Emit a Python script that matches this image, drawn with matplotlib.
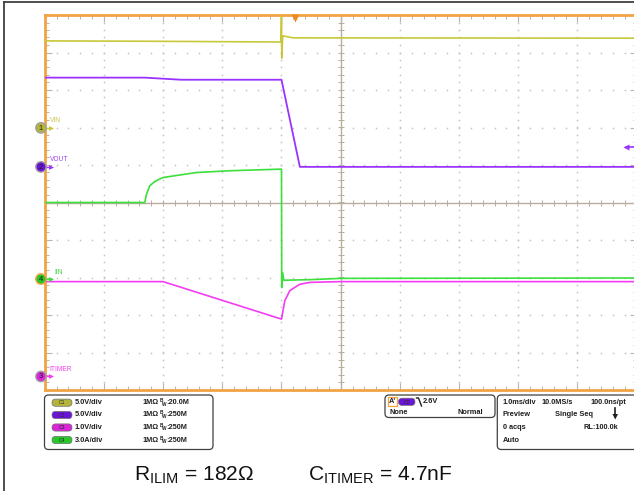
import numpy as np
import matplotlib
matplotlib.use('Agg')
import matplotlib.pyplot as plt
from matplotlib.patches import FancyBboxPatch, Rectangle, Circle, Polygon

plt.rcParams['font.family'] = ['Liberation Sans', 'DejaVu Sans']
plt.rcParams['mathtext.fontset'] = 'custom'
plt.rcParams['mathtext.rm'] = 'Liberation Sans'

# ---------------- data (time in ms, event at 0) ----------------
vin_t = [-4.0, -2.3, -0.01, 0.0, 0.004, 0.02, 0.2, 6.0]
vin_v = [11.6, 11.55, 11.45, 14.9, 9.3, 12.27, 12.0, 11.96]

vout_t = [-4.0, -2.31, -1.7, 0.0, 0.31, 6.0]
vout_v = [11.9, 11.9, 11.62, 11.62, 0.0, 0.0]

iin_t = [-4.0, -2.31, -2.28, -2.225, -2.14, -2.0, -1.436, -0.873, 0.0,
         0.004, 0.02, 0.04, 0.5, 1.0, 6.0]
iin_a = [6.12, 6.12, 6.79, 7.46, 7.8, 8.12, 8.52, 8.66, 8.79,
         -0.68, 0.5, -0.1, -0.05, 0.05, 0.08]

itimer_t = [-4.0, -2.0, 0.0, 0.056, 0.14, 0.31, 0.48, 1.0, 6.0]
itimer_v = [2.53, 2.53, 1.53, 2.02, 2.29, 2.46, 2.51, 2.53, 2.53]

# channel scales (units/div) and ground offsets (div)
scales = {'C1': 5.0, 'C2': 5.0, 'C3': 1.0, 'C4': 3.0}
offsets = {'C1': 1.99, 'C2': 0.95, 'C3': -4.64, 'C4': -2.04}
labels = {'C1': 'VIN', 'C2': 'VOUT', 'C3': 'ITIMER', 'C4': 'IIN'}
trace_col = {'C1': '#c8c83a', 'C2': '#9a33ff', 'C3': '#f43cf4', 'C4': '#3ce03c'}
mark_col = {'C1': '#b4b43c', 'C2': '#6a14d8', 'C3': '#d826d8', 'C4': '#28c828'}
label_col = {'C1': '#c8c850', 'C2': '#9a40f0', 'C3': '#f040f0', 'C4': '#40d040'}
volt_div = ['5.0V/div', '5.0V/div', '1.0V/div', '3.0A/div']
bw = ['20.0M', '250M', '250M', '250M']
trig_level = 2.6
trig_pos_ms = 0.22
x_center_ms = 1.0

W, H = 634, 491
fig = plt.figure(figsize=(W / 100, H / 100), dpi=100)
fig.patch.set_facecolor('white')

def fx(x):
    return x / W

def fy(y):
    return 1 - y / H

# main scope grid axes (10 x 10 divisions)
gl, gt, gw, gh = 44.7, 15.0, 592.0, 375.0
ax = fig.add_axes([fx(gl), fy(gt + gh), gw / W, gh / H])
ax.set_xlim(x_center_ms - 5, x_center_ms + 5)
ax.set_ylim(-5, 5)
for s in ax.spines.values():
    s.set_color('#f2a444')
    s.set_linewidth(2)
ax.set_xticks(np.arange(-4, 6.01, 1))
ax.set_yticks(np.arange(-5, 5.01, 1))
ax.set_xticks(np.arange(-4, 6.01, 0.2), minor=True)
ax.set_yticks(np.arange(-5, 5.01, 0.2), minor=True)
ax.tick_params(which='both', direction='in', top=True, right=True,
               labelbottom=False, labelleft=False, colors='#bdb3a6')
ax.tick_params(which='major', length=5, width=0.8)
ax.tick_params(which='minor', length=3, width=0.7)

gridc = '#c4c4c4'
minor_y = np.arange(-5, 5.01, 0.2)
minor_x = np.arange(-4, 6.01, 0.2)
for k in np.arange(-3, 6, 1):
    if k == x_center_ms:
        continue
    ax.plot(np.full_like(minor_y, k), minor_y, ls='none', marker='s', ms=1.1,
            mec='none', mfc=gridc, zorder=1)
for k in np.arange(-4, 5, 1):
    if k == 0:
        continue
    ax.plot(minor_x, np.full_like(minor_x, k), ls='none', marker='s', ms=1.1,
            mec='none', mfc=gridc, zorder=1)
axc = '#b8ad9e'
ax.axhline(0, color=axc, lw=1, zorder=1)
ax.axvline(x_center_ms, color=axc, lw=1, zorder=1)
ax.plot(minor_x, np.zeros_like(minor_x), ls='none', marker='|', ms=4, mew=0.7,
        color=axc, zorder=1)
ax.plot(np.full_like(minor_y, x_center_ms), minor_y, ls='none', marker='_', ms=4,
        mew=0.7, color=axc, zorder=1)

def div(ch, vals):
    return np.asarray(vals) / scales[ch] + offsets[ch]

ax.plot(vin_t, div('C1', vin_v), color=trace_col['C1'], lw=1.2, zorder=3)
ax.plot(vout_t, div('C2', vout_v), color=trace_col['C2'], lw=1.3, zorder=3)
ax.plot(itimer_t, div('C3', itimer_v), color=trace_col['C3'], lw=1.2, zorder=3)
ax.plot(iin_t, div('C4', iin_a), color=trace_col['C4'], lw=1.2, zorder=4)

# trigger position marker and trigger level arrow
ax.plot([trig_pos_ms], [4.93], marker='v', ms=6, color='#f08a20', mec='none',
        clip_on=False, zorder=6)
lvl = div('C2', [trig_level])[0]
ax.plot([5.82, 6.0], [lvl, lvl], color=trace_col['C2'], lw=1.2, zorder=5)
ax.plot([5.82], [lvl], marker='<', ms=4.5, color=trace_col['C2'], mec='none', zorder=5)

# overlay in pixel coordinates
ov = fig.add_axes([0, 0, 1, 1])
ov.set_xlim(0, W)
ov.set_ylim(H, 0)
ov.axis('off')
ov.patch.set_visible(False)

# outer frame (left and top visible)
ov.plot([4, 4], [2, H + 5], color='#404040', lw=1.3)
ov.plot([4, W + 5], [2, 2], color='#404040', lw=1.3)

def ypix(ch):
    disp = ax.transData.transform((0, offsets[ch]))
    return H - disp[1]

for i, ch in enumerate(['C1', 'C2', 'C3', 'C4']):
    y = ypix(ch)
    ring = '#f2a444' if ch == 'C4' else '#a0a0a0'
    ov.add_patch(Circle((41, y), 5.2, facecolor=mark_col[ch], edgecolor=ring,
                        lw=1.0, zorder=10))
    ov.text(41, y + 0.3, ch[1], ha='center', va='center', fontsize=5.5,
            color='#303000' if ch == 'C1' else '#202020', zorder=11)
    ov.plot([46.5, 51], [y, y], color=trace_col[ch], lw=1.0, zorder=10)
    ov.plot([51], [y], marker='>', ms=3.5, color=trace_col[ch], mec='none', zorder=10)
    lx = 54 if ch == 'C4' else 49.5
    ov.text(lx, y - 7, labels[ch], ha='left', va='center', fontsize=4.8,
            color=label_col[ch], zorder=11)

# ---- info boxes ----
def rbox(x0, y0, x1, y1):
    ov.add_patch(FancyBboxPatch((x0, y0), x1 - x0, y1 - y0,
                                boxstyle='round,pad=0,rounding_size=4',
                                facecolor='white', edgecolor='#404040', lw=0.9,
                                zorder=8))

txtc = '#1e1e1e'
fs = 5.3
rbox(44.5, 395, 213, 449.5)
rows = [402.7, 415.0, 427.5, 440.0]
for i, ch in enumerate(['C1', 'C2', 'C3', 'C4']):
    y = rows[i]
    ov.add_patch(FancyBboxPatch((52, y - 3.6), 20, 7.2,
                                boxstyle='round,pad=0,rounding_size=3.6',
                                facecolor=mark_col[ch], edgecolor='#707070',
                                lw=0.5, zorder=9))
    ov.text(62, y + 0.2, ch, ha='center', va='center', fontsize=3.6,
            color='#2a2a2a', zorder=10)
    ov.text(74.5, y, volt_div[i], ha='left', va='center', fontsize=fs,
            fontweight='bold', color=txtc, zorder=10)
    ov.text(142.3, y, '1MΩ', ha='left', va='center', fontsize=fs,
            fontweight='bold', color=txtc, zorder=10)
    ov.text(159.8, y - 2.0, 'B', ha='left', va='center', fontsize=3.4,
            fontweight='bold', color=txtc, zorder=10)
    ov.text(161.8, y + 1.4, 'W', ha='left', va='center', fontsize=3.4,
            fontweight='bold', color=txtc, zorder=10)
    ov.text(166.3, y, ':' + bw[i], ha='left', va='center', fontsize=fs,
            fontweight='bold', color=txtc, zorder=10)

# trigger box
rbox(385, 395, 495, 417.5)
ov.add_patch(Rectangle((388.3, 396.5), 8.4, 9.5, facecolor='white',
                       edgecolor='#f2a444', lw=0.9, zorder=9))
ov.text(392.5, 401.3, "A'", ha='center', va='center', fontsize=fs,
        fontweight='bold', color=txtc, zorder=10)
ov.add_patch(FancyBboxPatch((398.5, 398.2), 16.5, 7.2,
                            boxstyle='round,pad=0,rounding_size=3.6',
                            facecolor=mark_col['C2'], edgecolor='#707070',
                            lw=0.5, zorder=9))
ov.text(406.7, 402, 'C2', ha='center', va='center', fontsize=3.6,
        color='#2a2a2a', zorder=10)
ov.plot([416.5, 418.5, 421.5], [398, 398, 406], color=txtc, lw=1.0, zorder=10)
ov.text(423, 401.8, '%.1fV' % trig_level, ha='left', va='center', fontsize=fs,
        fontweight='bold', color=txtc, zorder=10)
ov.text(389.3, 412.5, 'None', ha='left', va='center', fontsize=fs,
        fontweight='bold', color=txtc, zorder=10)
ov.text(483.5, 412.5, 'Normal', ha='right', va='center', fontsize=fs,
        fontweight='bold', color=txtc, zorder=10)

# timebase box
rbox(497.3, 395, 645, 449.5)
tb_rows = [(402.7, [('1.0ms/div', 502.7, 'left'), ('10.0MS/s', 541.7, 'left'),
                    ('100.0ns/pt', 626.5, 'right')]),
           (414.5, [('Preview', 502.7, 'left'), ('Single Seq', 555.3, 'left')]),
           (427.3, [('0 acqs', 502.7, 'left'), ('RL:100.0k', 618.5, 'right')]),
           (440.0, [('Auto', 502.7, 'left')])]
for y, items in tb_rows:
    for s, x, ha in items:
        ov.text(x, y, s, ha=ha, va='center', fontsize=fs, fontweight='bold',
                color=txtc, zorder=10)
ov.add_patch(Polygon([[612.5, 414], [618, 414], [615.25, 419.5]],
                     closed=True, facecolor=txtc, edgecolor='none', zorder=10))
ov.plot([615.25, 615.25], [408, 415], color=txtc, lw=1.2, zorder=10)

# bottom annotation
ov.text(133.5, 480.5, r'R$_{\mathregular{ILIM}}$ = 182Ω', ha='left', va='baseline',
        fontsize=15.1, color='#111111')
ov.text(307.5, 480.5, r'C$_{\mathregular{ITIMER}}$ = 4.7nF', ha='left',
        va='baseline', fontsize=15.1, color='#111111')

fig.savefig('out.png', dpi=100, facecolor='white')
